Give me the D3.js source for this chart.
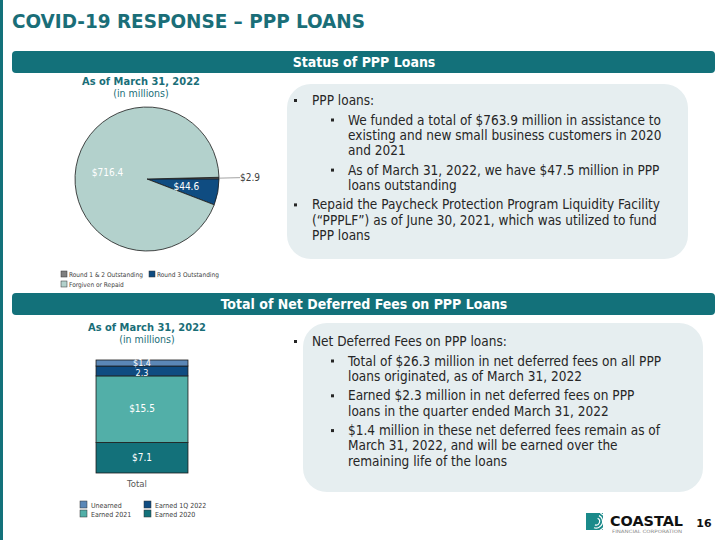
<!DOCTYPE html>
<html><head><meta charset="utf-8">
<script src="https://cdn.jsdelivr.net/npm/d3@7"></script>
<style>
html,body{margin:0;padding:0;background:#fff;}
svg{display:block;font-family:"DejaVu Sans Condensed","DejaVu Sans",sans-serif;}
</style></head>
<body>
<svg id="c" width="720" height="540"></svg>
<script>
// ---------- data ----------
const pieCategories = ["Round 1 & 2 Outstanding", "Round 3 Outstanding", "Forgiven or Repaid"];
const pieValues = [2.9, 44.6, 716.4];
const pieLabels = ["$2.9", "$44.6", "$716.4"];
const pieColors = ["#7f7f7f", "#0f4c81", "#b3d1cc"];

const barCategory = ["Total"];
const barSeries = ["Earned 2020", "Earned 2021", "Earned 1Q 2022", "Unearned"];
const barValues = [7.1, 15.5, 2.3, 1.4];
const barLabels = ["$7.1", "$15.5", "2.3", "$1.4"];
const barColors = ["#13717a", "#52afa8", "#0f4c81", "#5b87b6"];
const barLegendOrder = ["Unearned", "Earned 1Q 2022", "Earned 2021", "Earned 2020"];

const titleText = "COVID-19 RESPONSE – PPP LOANS";
const header1 = "Status of PPP Loans";
const header2 = "Total of Net Deferred Fees on PPP Loans";
const subTitle = "As of March 31, 2022";
const subUnits = "(in millions)";

const box1Text = [
  {lvl:0, lines:["PPP loans:"]},
  {lvl:1, lines:["We funded a total of $763.9 million in assistance to","existing and new small business customers in 2020","and 2021"]},
  {lvl:1, lines:["As of March 31, 2022, we have $47.5 million in PPP","loans outstanding"]},
  {lvl:0, lines:["Repaid the Paycheck Protection Program Liquidity Facility","(“PPPLF”) as of June 30, 2021, which was utilized to fund","PPP loans"]}
];
const box2Text = [
  {lvl:0, lines:["Net Deferred Fees on PPP loans:"]},
  {lvl:1, lines:["Total of $26.3 million in net deferred fees on all PPP","loans originated, as of March 31, 2022"]},
  {lvl:1, lines:["Earned $2.3 million in net deferred fees on PPP","loans in the quarter ended March 31, 2022"]},
  {lvl:1, lines:["$1.4 million in these net deferred fees remain as of","March 31, 2022, and will be earned over the","remaining life of the loans"]}
];

// ---------- drawing ----------
const svg = d3.select("#c");
const teal = "#13717a";
const titleTeal = "#1a6e78";

svg.append("rect").attr("x",0).attr("y",0).attr("width",3).attr("height",540).attr("fill",teal);

svg.append("text").attr("x",12).attr("y",28).attr("fill",titleTeal)
  .attr("font-size",20).attr("font-weight","bold").text(titleText)
  .attr("textLength",353).attr("lengthAdjust","spacingAndGlyphs");

function header(y, txt){
  svg.append("rect").attr("x",12).attr("y",y).attr("width",703).attr("height",22).attr("rx",4).attr("fill",teal);
  svg.append("text").attr("x",364).attr("y",y+16).attr("text-anchor","middle").attr("fill","#fff")
    .attr("font-size",14).attr("font-weight","bold").text(txt);
}
header(51, header1);
header(293, header2);

function subtitles(cx, y){
  svg.append("text").attr("x",cx).attr("y",y).attr("text-anchor","middle").attr("fill",titleTeal)
    .attr("font-size",11).attr("font-weight","bold").text(subTitle);
  svg.append("text").attr("x",cx).attr("y",y+12).attr("text-anchor","middle").attr("fill",titleTeal)
    .attr("font-size",10.5).text(subUnits);
}
subtitles(141, 85);
subtitles(147, 331);

// ---- pie ----
const total = d3.sum(pieValues);
const cx = 147, cy = 179, R = 72;
const start = Math.PI/2 - pieValues[0]/total*2*Math.PI;
const pie = d3.pie().sort(null).startAngle(start).endAngle(start + 2*Math.PI);
const arcs = pie(pieValues);
const arc = d3.arc().innerRadius(0).outerRadius(R);
const labelArc = d3.arc().innerRadius(40).outerRadius(40);
const gp = svg.append("g").attr("transform",`translate(${cx},${cy})`);
gp.selectAll("path").data(arcs).join("path")
  .attr("d",arc).attr("fill",(d,i)=>pieColors[i]).attr("stroke","#1b1b1b").attr("stroke-width",0.8);
arcs.forEach((d,i)=>{
  if(i===0){
    const a = (d.startAngle+d.endAngle)/2;
    const x0 = R*Math.sin(a), y0 = -R*Math.cos(a);
    gp.append("line").attr("x1",x0).attr("y1",y0).attr("x2",R+21).attr("y2",y0-0.5)
      .attr("stroke","#8c8c8c").attr("stroke-width",0.8);
    gp.append("text").attr("x",R+21).attr("y",y0+3).attr("font-size",10).attr("fill","#404040").text(pieLabels[i]);
  } else {
    const [lx,ly] = labelArc.centroid(d);
    gp.append("text").attr("x",lx).attr("y",ly+3.5).attr("text-anchor","middle")
      .attr("font-size",10).attr("fill","#fff").text(pieLabels[i]);
  }
});
// pie legend
const pieLeg = [{i:0,x:61,y:271},{i:1,x:149,y:271},{i:2,x:61,y:281}];
pieLeg.forEach(p=>{
  svg.append("rect").attr("x",p.x).attr("y",p.y).attr("width",6).attr("height",6)
    .attr("fill",pieColors[p.i]).attr("stroke","#333").attr("stroke-width",0.5);
  svg.append("text").attr("x",p.x+8).attr("y",p.y+6).attr("font-size",6.5).attr("fill","#404040").text(pieCategories[p.i]);
});

// ---- stacked bar ----
const stackData = [Object.fromEntries([["cat",barCategory[0]], ...barSeries.map((s,i)=>[s,barValues[i]])])];
const stack = d3.stack().keys(barSeries)(stackData);
const x = d3.scaleBand().domain(barCategory).range([62,222]).paddingInner(0).paddingOuter(0.37);
const y = d3.scaleLinear().domain([0, d3.sum(barValues)]).range([473, 360]);
const gb = svg.append("g");
const labelNudge = [0, 0, 1.5, -0.5];
stack.forEach((layer,i)=>{
  const d = layer[0];
  gb.append("rect").attr("x",x(d.data.cat)).attr("y",y(d[1])).attr("width",x.bandwidth())
    .attr("height",y(d[0])-y(d[1])).attr("fill",barColors[i]).attr("stroke","#1b1b1b").attr("stroke-width",0.8);
});
stack.forEach((layer,i)=>{
  const d = layer[0];
  gb.append("text").attr("x",x(d.data.cat)+x.bandwidth()/2).attr("y",(y(d[0])+y(d[1]))/2+3.3+labelNudge[i])
    .attr("text-anchor","middle").attr("font-size",i>=2?9:10).attr("fill","#fff").text(barLabels[i]);
});
svg.append("text").attr("x",x("Total")+x.bandwidth()/2-5).attr("y",487).attr("text-anchor","middle")
  .attr("font-size",9.5).attr("fill","#595959").text(barCategory[0]);
const barLeg = [{x:80,y:501},{x:144,y:501},{x:80,y:510},{x:144,y:510}];
barLegendOrder.forEach((s,k)=>{
  const i = barSeries.indexOf(s), p = barLeg[k];
  svg.append("rect").attr("x",p.x).attr("y",p.y).attr("width",7).attr("height",7)
    .attr("fill",barColors[i]).attr("stroke","#333").attr("stroke-width",0.5);
  svg.append("text").attr("x",p.x+11).attr("y",p.y+6.5).attr("font-size",7).attr("fill","#404040").text(s);
});

// ---- text boxes ----
function textBox(bx, by, bw, bh, paras, y0){
  svg.append("rect").attr("x",bx).attr("y",by).attr("width",bw).attr("height",bh).attr("rx",24).attr("fill","#e6eef0");
  let yy = y0;
  paras.forEach((p,pi)=>{
    if(pi>0) yy += 19.5;
    const bxp = p.lvl===0 ? 294 : 331;
    const tx = p.lvl===0 ? 312 : 348;
    svg.append("rect").attr("x",bxp).attr("y",yy-6).attr("width",3).attr("height",3).attr("fill","#262626");
    p.lines.forEach((l,li)=>{
      if(li>0) yy += 15.3;
      svg.append("text").attr("x",tx).attr("y",yy).attr("font-size",13.5).attr("fill","#262626").text(l);
    });
  });
}
textBox(287, 84, 401, 175, box1Text, 105);
textBox(303, 323, 400, 169, box2Text, 346);

// ---- logo ----
const lg = svg.append("g");
lg.append("rect").attr("x",586).attr("y",513).attr("width",17).attr("height",17).attr("fill","#1a8a8a");
[3,6,9].forEach(r=>{
  lg.append("path").attr("d",d3.arc().innerRadius(r).outerRadius(r+1.2).startAngle(Math.PI*0.15).endAngle(Math.PI*1.1)()).attr("transform","translate(596,521.5)").attr("fill","#fff");
});
lg.append("text").attr("x",610).attr("y",526).attr("font-family","DejaVu Sans").attr("font-weight","bold")
  .attr("font-size",14).attr("fill","#111").text("COASTAL").attr("textLength",73).attr("lengthAdjust","spacingAndGlyphs");
lg.append("text").attr("x",612).attr("y",533).attr("font-size",4.5).attr("fill","#888").text("FINANCIAL CORPORATION")
  .attr("textLength",70).attr("lengthAdjust","spacingAndGlyphs");
svg.append("text").attr("x",704).attr("y",527).attr("text-anchor","middle").attr("font-family","DejaVu Sans")
  .attr("font-weight","bold").attr("font-size",11).attr("fill","#111").text("16");
</script>
</body></html>
